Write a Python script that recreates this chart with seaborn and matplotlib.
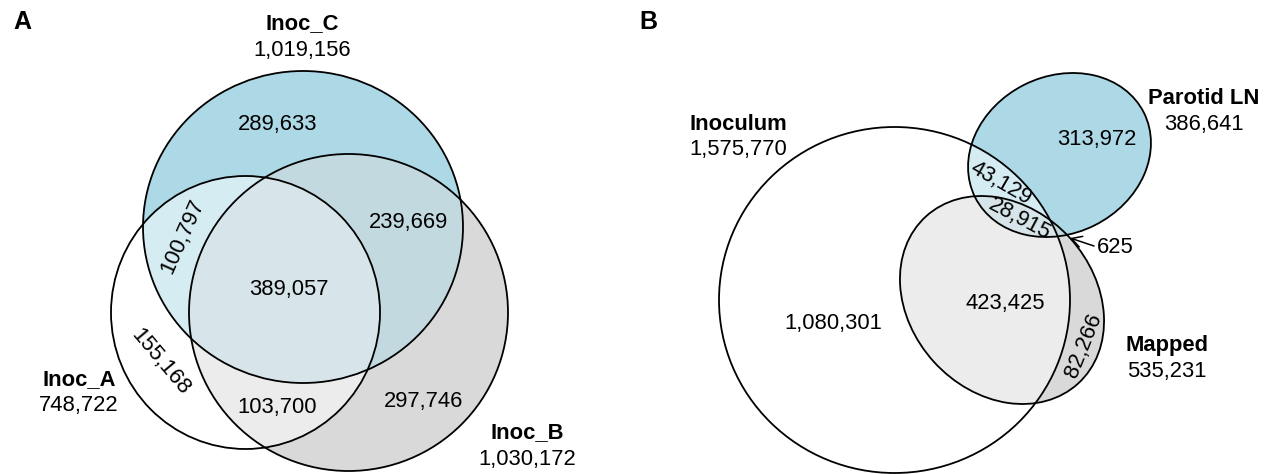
import numpy as np
import matplotlib
matplotlib.use("Agg")
import matplotlib.pyplot as plt
from matplotlib.patches import Ellipse, Polygon
from matplotlib.colors import to_rgb
import seaborn as sns

# ---- data -------------------------------------------------------------
# Panel A: three inocula
a_sets = ["Inoc_A", "Inoc_B", "Inoc_C"]
a_region_keys = ["A", "B", "C", "AB", "AC", "BC", "ABC"]
a_region_counts = [155168, 297746, 289633, 103700, 100797, 239669, 389057]

# Panel B: inoculum vs parotid lymph node vs mapped
b_sets = ["Inoculum", "Parotid LN", "Mapped"]
b_region_keys = ["I", "P", "M", "IP", "IM", "PM", "IPM"]
b_region_counts = [1080301, 313972, 82266, 43129, 423425, 625, 28915]

# ---- style ------------------------------------------------------------
sns.set_theme(style="white")
plt.rcParams["font.family"] = ["Liberation Sans", "DejaVu Sans"]
plt.rcParams["text.color"] = "black"
FS = 15.8
set_colors_a = {"A": "white", "B": "#D9D9D9", "C": "#ADD8E6"}
set_colors_b = {"I": "white", "M": "#D9D9D9", "P": "#ADD8E6"}

# ellipse geometry in pixel units: (cx, cy, semi-major, semi-minor, angle)
geom_a = {"A": (245.5, 312.5, 134.5, 136.5, 0.0),
          "B": (348.5, 312.5, 159.5, 158.5, 0.0),
          "C": (303.0, 227.0, 160.0, 156.0, 0.0)}
geom_b = {"I": (894.5, 300.0, 175.5, 173.0, 0.0),
          "P": (1059.5, 155.0, 94.4, 78.6, -26.6),
          "M": (1002.0, 300.0, 113.0, 92.0, 47.7)}


def boundary(g, n=3000):
    cx, cy, a, b, ang = g
    t = np.linspace(0, 2 * np.pi, n, endpoint=False)
    th = np.deg2rad(ang)
    x = cx + a * np.cos(t) * np.cos(th) - b * np.sin(t) * np.sin(th)
    y = cy + a * np.cos(t) * np.sin(th) + b * np.sin(t) * np.cos(th)
    return np.column_stack([x, y])


def inside(pts, g, tol=1e-3):
    cx, cy, a, b, ang = g
    th = np.deg2rad(ang)
    dx, dy = pts[:, 0] - cx, pts[:, 1] - cy
    u = dx * np.cos(th) + dy * np.sin(th)
    v = -dx * np.sin(th) + dy * np.cos(th)
    return (u / a) ** 2 + (v / b) ** 2 <= 1 + tol


def intersection_polygon(gs):
    # intersection of convex shapes is convex: collect boundary points
    # lying inside all the others and order them by angle
    pts = []
    for i, g in enumerate(gs):
        p = boundary(g)
        keep = np.ones(len(p), bool)
        for j, h in enumerate(gs):
            if i != j:
                keep &= inside(p, h)
        pts.append(p[keep])
    pts = np.vstack(pts)
    c = pts.mean(axis=0)
    order = np.argsort(np.arctan2(pts[:, 1] - c[1], pts[:, 0] - c[0]))
    return pts[order]


def draw_venn(ax, geom, colors):
    keys = list(geom)
    combos = [[k] for k in keys]
    combos += [[keys[i], keys[j]] for i in range(3) for j in range(i + 1, 3)]
    combos += [keys]
    for combo in combos:
        rgb = np.mean([to_rgb(colors[k]) for k in combo], axis=0)
        if len(combo) == 1:
            poly = boundary(geom[combo[0]])
        else:
            poly = intersection_polygon([geom[k] for k in combo])
        ax.add_patch(Polygon(poly, closed=True, facecolor=rgb,
                             edgecolor="none", zorder=1))
    for k in keys:
        cx, cy, a, b, ang = geom[k]
        ax.add_patch(Ellipse((cx, cy), 2 * a, 2 * b, angle=ang, fill=False,
                             edgecolor="black", lw=1.3, zorder=3))


fig = plt.figure(figsize=(12.7, 4.74), dpi=100)
ax = fig.add_axes([0, 0, 1, 1])
ax.set_xlim(0, 1270)
ax.set_ylim(474, 0)
ax.set_aspect("equal")
ax.axis("off")

draw_venn(ax, geom_a, set_colors_a)
draw_venn(ax, geom_b, set_colors_b)

# ---- region counts ----------------------------------------------------
a_label_pos = {"A": (160, 362, -50), "B": (424, 402, 0), "C": (278, 124, 0),
               "AB": (277, 407, 0), "AC": (183, 236, 66), "BC": (409, 222, 0),
               "ABC": (289, 289, 0)}
b_label_pos = {"I": (833, 323, 0), "P": (1097, 140, 0), "M": (1084, 346, 68),
               "IP": (1001, 183, -30), "IM": (1005, 303, 0),
               "IPM": (1020, 219, -28)}

for keys, counts, pos in [(a_region_keys, a_region_counts, a_label_pos),
                          (b_region_keys, b_region_counts, b_label_pos)]:
    for k, v in zip(keys, counts):
        if k not in pos:
            continue
        x, y, rot = pos[k]
        ax.text(x, y, f"{v:,}", ha="center", va="center", rotation=rot,
                rotation_mode="anchor", fontsize=FS, zorder=4)

# tiny parotid-mapped overlap gets a pointer
pm = b_region_counts[b_region_keys.index("PM")]
ax.annotate("", xy=(1070, 238), xytext=(1094, 246),
            arrowprops=dict(arrowstyle="->,head_length=0.36,head_width=0.2",
                            lw=1.1, color="black", mutation_scale=20,
                            shrinkA=0, shrinkB=0),
            zorder=5)
ax.text(1097, 247, f"{pm:,}", ha="left", va="center", fontsize=FS, zorder=4)

# ---- set names and totals --------------------------------------------
def totals(keys, counts, letter):
    return sum(c for k, c in zip(keys, counts) if letter in k)

a_name_pos = [(79, 380), (527, 433), (302, 24)]
for name, letter, (x, y) in zip(a_sets, "ABC", a_name_pos):
    ax.text(x, y, name, ha="center", va="center", fontsize=FS,
            fontweight="bold")
    ax.text(x, y + 26, f"{totals(a_region_keys, a_region_counts, letter):,}",
            ha="center", va="center", fontsize=FS)

b_name_pos = [(738, 124), (1204, 98), (1167, 345)]
for name, letter, (x, y) in zip(b_sets, "IPM", b_name_pos):
    ax.text(x, y, name, ha="center", va="center", fontsize=FS,
            fontweight="bold")
    ax.text(x, y + 26, f"{totals(b_region_keys, b_region_counts, letter):,}",
            ha="center", va="center", fontsize=FS)

ax.text(22, 22, "A", ha="center", va="center", fontsize=18, fontweight="bold")
ax.text(648, 22, "B", ha="center", va="center", fontsize=18, fontweight="bold")

fig.savefig("out.png", dpi=100)
